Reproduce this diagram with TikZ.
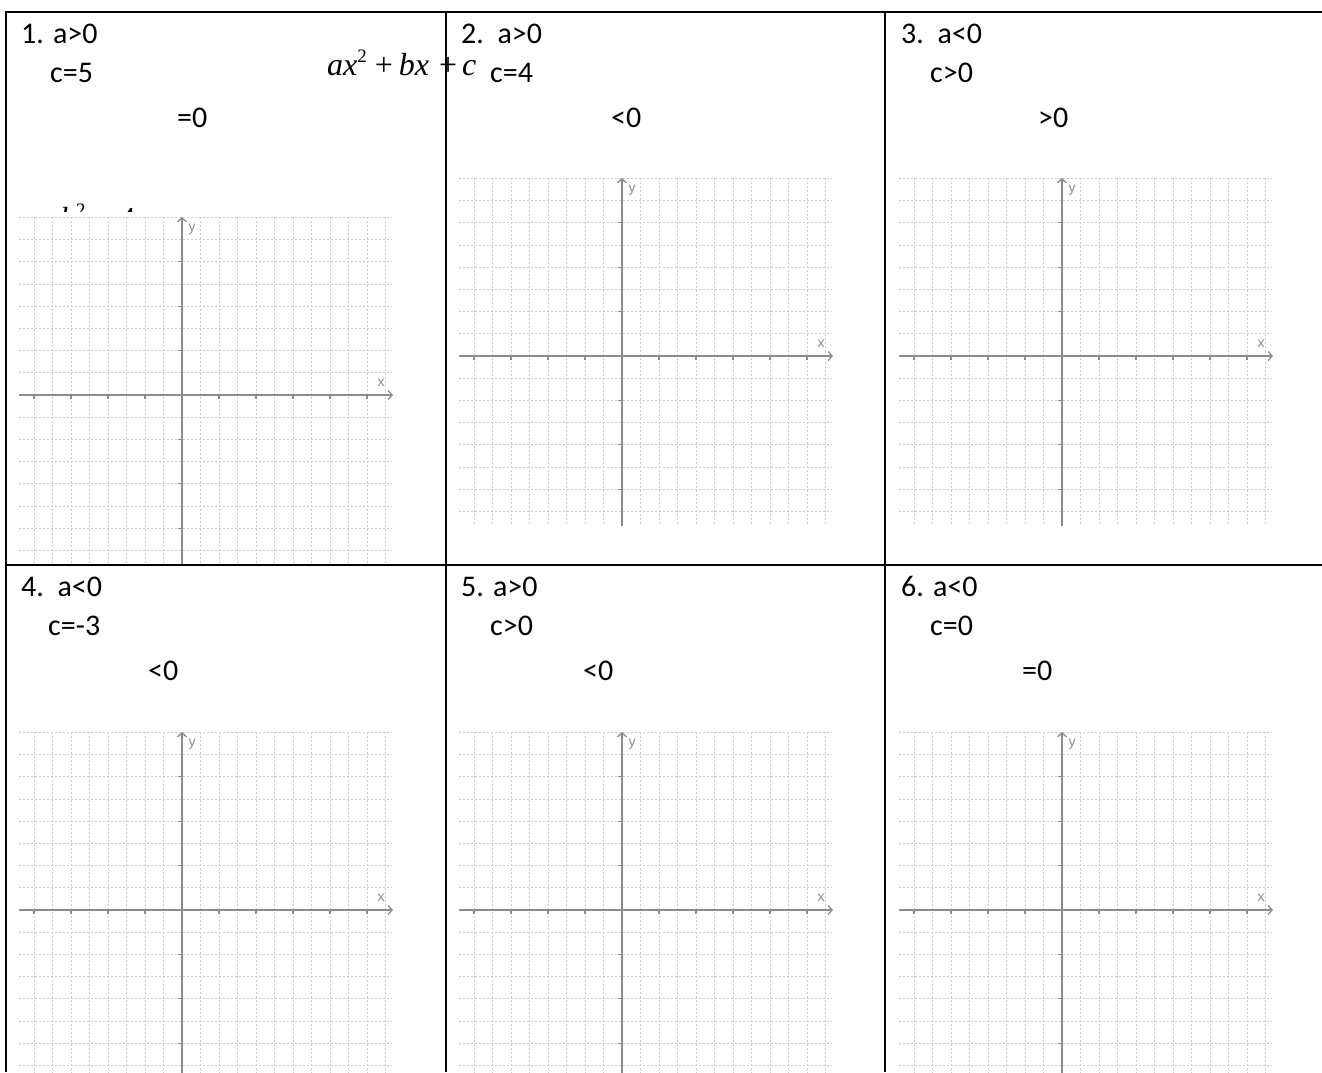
\documentclass[tikz,border=0pt]{standalone}
\usepackage{fontspec}
\setmainfont{Carlito}
\newfontfamily\timesfont{Liberation Serif}
\newfontfamily\labelfont{Liberation Sans}
\usetikzlibrary{arrows.meta}
\definecolor{axisgray}{RGB}{140,140,140}
\definecolor{gridgray}{RGB}{204,204,204}

\begin{document}
\begin{tikzpicture}[
            x=1pt, y=-1pt,
            cellline/.style={line width=2pt, black},
            celltext/.style={anchor=base west, inner sep=0pt, font=\fontsize{30}{36}\selectfont},
            polytext/.style={anchor=base west, inner sep=0pt, font=\timesfont\fontsize{32}{38}\selectfont},
            gridline/.style={gridgray, line width=0.9pt, dash pattern=on 2pt off 2pt},
            axisline/.style={axisgray, line width=1.3pt},
            axisarrow/.style={axisline, -{Straight Barb[length=4pt,width=9pt]}},
            axislabel/.style={axisgray, inner sep=0pt, font=\labelfont\fontsize{14}{14}\selectfont},
            coordgrid/.pic={
                % dotted grid
                \foreach \k in {-8,...,7}
                    \draw[gridline] (-163,\k*22.2) -- (210,\k*22.2);
                \foreach \j in {-8,...,-1,1,2,...,11}
                    \draw[gridline] (\j*18.5,-178) -- (\j*18.5,170);
                % axes and ticks
                \draw[axisarrow] (-163,0) -- (211,0);
                \draw[axisarrow] (0,170) -- (0,-178);
                \foreach \j in {-8,-6,...,10}
                    \draw[axisline] (\j*18.5,0) -- (\j*18.5,4);
                \foreach \k in {-6,-4,-2,2,4,6}
                    \draw[axisline] (0,\k*22.2) -- (-4,\k*22.2);
                \node[axislabel] (-xlab) at (199,-12) {x};
                \node[axislabel] (-ylab) at (10,-166) {y};
            }
        ]
            \useasboundingbox (0,0) rectangle (1322,1072);

            % Hidden formula under the first grid
            \begin{scope}
                \clip (6,190) rectangle (446,211);
                \node[polytext] (discr) at (60,229) {\textit{b}\raisebox{13pt}{\fontsize{19}{19}\selectfont 2}\hspace{8pt}−\hspace{8pt}4\textit{ac}};
            \end{scope}

            % Grids
            \pic (g1) at (182,395) {coordgrid};
            \pic (g2) at (622,356) {coordgrid};
            \pic (g3) at (1062,356) {coordgrid};
            \pic (g4) at (182,910) {coordgrid};
            \pic (g5) at (622,910) {coordgrid};
            \pic (g6) at (1062,910) {coordgrid};

            % Table
            \draw[cellline] (5,12) -- (1322,12);
            \draw[cellline] (5,565) -- (1322,565);
            \draw[cellline] (6,11) -- (6,1072);
            \draw[cellline] (446,11) -- (446,1072);
            \draw[cellline] (885,11) -- (885,1072);

            % Row 1
            \node[celltext] (c1a) at (21,43) {1. a>0};
            \node[celltext] (c1c) at (50,82) {c=5};
            \node[celltext] (c1d) at (177,127) {=0};
            \node[polytext] (poly) at (327,75) {\textit{ax}\raisebox{13pt}{\fontsize{19}{19}\selectfont 2}\hspace{8pt}+\hspace{6pt}\textit{bx}\hspace{10pt}+\hspace{5pt}\textit{c}};

            \node[celltext] (c2a) at (461,43) {2.\ \ a>0};
            \node[celltext] (c2c) at (490,82) {c=4};
            \node[celltext] (c2d) at (611,127) {<0};

            \node[celltext] (c3a) at (901,43) {3.\ \ a<0};
            \node[celltext] (c3c) at (930,82) {c>0};
            \node[celltext] (c3d) at (1038,127) {>0};

            % Row 2
            \node[celltext] (c4a) at (21,596) {4.\ \ a<0};
            \node[celltext] (c4c) at (48,635) {c=-3};
            \node[celltext] (c4d) at (148,680) {<0};

            \node[celltext] (c5a) at (461,596) {5. a>0};
            \node[celltext] (c5c) at (490,635) {c>0};
            \node[celltext] (c5d) at (583,680) {<0};

            \node[celltext] (c6a) at (901,596) {6. a<0};
            \node[celltext] (c6c) at (930,635) {c=0};
            \node[celltext] (c6d) at (1022,680) {=0};
        \end{tikzpicture}
\end{document}
